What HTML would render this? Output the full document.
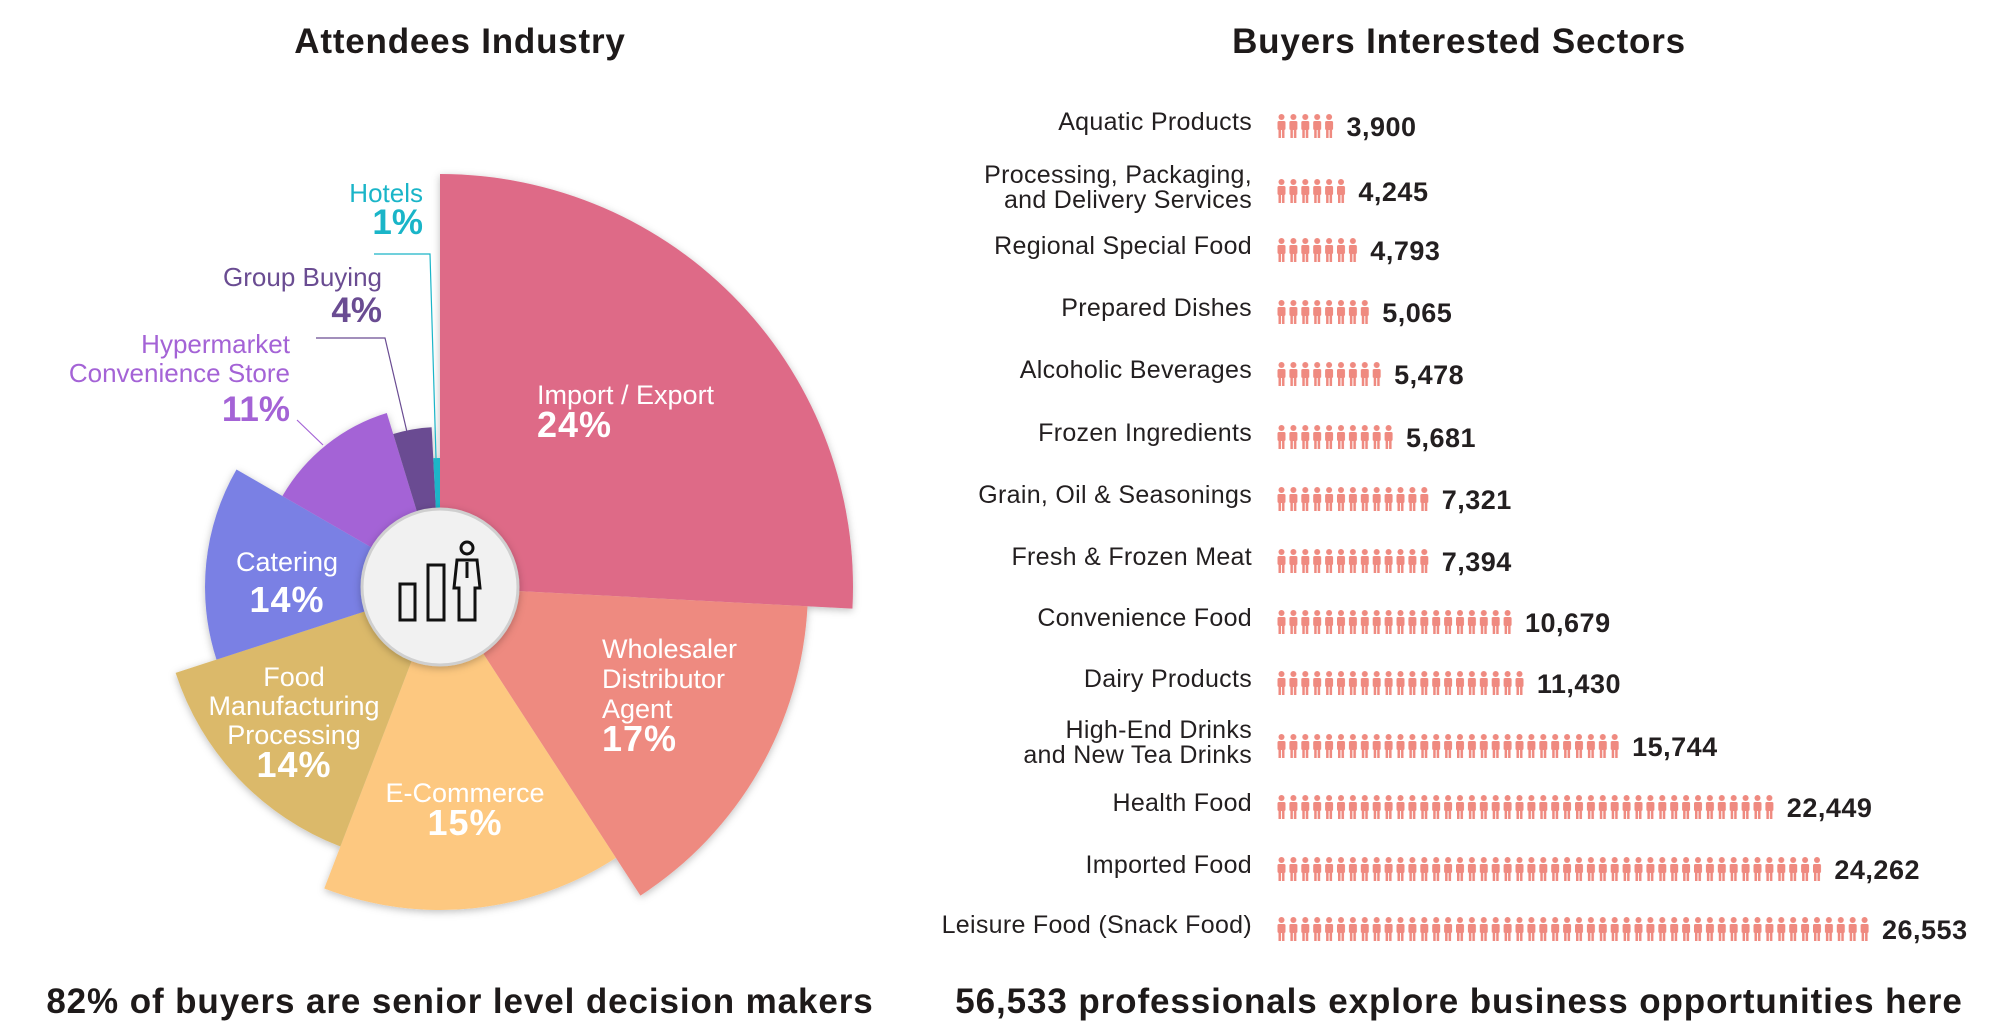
<!DOCTYPE html>
<html><head><meta charset="utf-8">
<style>
html,body{margin:0;padding:0;background:#fff;}
body{width:2014px;height:1029px;position:relative;overflow:hidden;font-family:"Liberation Sans","DejaVu Sans",sans-serif;}
.t{position:absolute;white-space:nowrap;}
.title{font-weight:bold;font-size:35px;color:#1e1a1a;transform:translateX(-50%);letter-spacing:0.8px;}
.foot{font-size:35px;letter-spacing:0.9px;}
.lbl{font-size:25px;color:#231f20;text-align:right;line-height:25px;letter-spacing:0.3px;}
.num{font-weight:bold;font-size:27px;color:#231f20;letter-spacing:0.5px;}
.w{color:#fff;font-size:27px;line-height:30px;}
.wp{color:#fff;font-size:36px;font-weight:bold;letter-spacing:1px;}
</style></head><body>
<svg id="sv" width="2014" height="1029" style="position:absolute;left:0;top:0">
<defs>
<filter id="sh" x="-20%" y="-20%" width="140%" height="140%"><feDropShadow dx="0" dy="2" stdDeviation="4" flood-opacity="0.25"/></filter>
<pattern id="pp" x="1277" y="0" width="11.9" height="30" patternUnits="userSpaceOnUse">
<circle cx="4.5" cy="4" r="3" fill="#ef8a80"/>
<rect x="0.5" y="8" width="8" height="9" rx="1.5" fill="#ef8a80"/>
<rect x="1.5" y="16" width="2.5" height="9" fill="#ef8a80"/>
<rect x="5" y="16" width="2.5" height="9" fill="#ef8a80"/>
</pattern>
</defs>
<g id="pie" filter="url(#sh)"></g>
<g fill="none" stroke-width="1.2">
<polyline points="374,254 430,254 436,458" stroke="#1ab5c8"/>
<polyline points="316,338 385,338 407,432" stroke="#6a4c92"/>
<polyline points="297,420 323,445" stroke="#a463d6"/>
</g>
<circle cx="440" cy="587" r="78" fill="#f1f1f1" stroke="#cfcfcf" stroke-width="3" filter="url(#sh)"/>
<g fill="none" stroke="#111" stroke-width="3">
<rect x="400" y="584" width="15" height="36"/>
<rect x="428" y="565" width="16" height="55"/>
<circle cx="467" cy="548" r="6"/>
<path d="M457 560 h20 l3 28 h-5 v32 h-16 v-32 h-5 z"/>
<line x1="467" y1="562" x2="467" y2="578"/>
</g>
<g id="bars"></g>
</svg>

<div class="t title" style="left:460px;top:22px">Attendees Industry</div>
<div class="t title" style="left:1459px;top:22px">Buyers Interested Sectors</div>
<div class="t title foot" style="left:460px;top:982px">82% of buyers are senior level decision makers</div>
<div class="t title foot" style="left:1459px;top:982px">56,533 professionals explore business opportunities here</div>

<div class="t" style="right:1591px;top:178px;color:#1ab5c8;font-size:26px;text-align:right;line-height:30px">Hotels<br><b style="font-size:35px">1%</b></div>
<div class="t" style="right:1632px;top:260px;color:#6a4c92;font-size:26px;text-align:right;line-height:34px">Group Buying<br><b style="font-size:35px">4%</b></div>
<div class="t" style="right:1724px;top:330px;color:#a463d6;font-size:26px;text-align:right;line-height:29px">Hypermarket<br>Convenience Store<br><b style="font-size:35px;line-height:44px">11%</b></div>

<div class="t w" style="left:537px;top:380px">Import / Export<br><b class="wp">24%</b></div>
<div class="t w" style="left:602px;top:634px">Wholesaler<br>Distributor<br>Agent<br><b class="wp">17%</b></div>
<div class="t w" style="left:465px;top:778px;transform:translateX(-50%);text-align:center">E-Commerce<br><b class="wp">15%</b></div>
<div class="t w" style="left:294px;top:663px;transform:translateX(-50%);text-align:center;line-height:29px">Food<br>Manufacturing<br>Processing<br><b class="wp">14%</b></div>
<div class="t w" style="left:287px;top:543px;transform:translateX(-50%);text-align:center;line-height:38px">Catering<br><b class="wp">14%</b></div>

<div id="rows"></div>
<script>
var cx=440,cy=587,P=Math.PI/180;
function pt(r,a){return [cx+r*Math.sin(a*P),cy-r*Math.cos(a*P)];}
var s=[[0,93,413,"#de6a87"],[93,147,368,"#ee8a80"],[147,201,323,"#fdc880"],[201,252,278,"#dbb96a"],[252,300,235,"#7a80e4"],[300,343,182,"#a463d6"],[343,357,160,"#6a4c92"],[357,360,129,"#1ab5c8"]];
var g=document.getElementById('pie'),h='';
s.forEach(function(d){var a=pt(d[2],d[0]),b=pt(d[2],d[1]);h+='<path d="M'+cx+' '+cy+' L'+a[0]+' '+a[1]+' A'+d[2]+' '+d[2]+' 0 0 1 '+b[0]+' '+b[1]+' Z" fill="'+d[3]+'"/>';});
g.innerHTML=h;
var rows=[["Aquatic Products","3,900",5,125],["Processing, Packaging,<br>and Delivery Services","4,245",6,190],["Regional Special Food","4,793",7,249],["Prepared Dishes","5,065",8,311],["Alcoholic Beverages","5,478",9,373],["Frozen Ingredients","5,681",10,436],["Grain, Oil &amp; Seasonings","7,321",13,498],["Fresh &amp; Frozen Meat","7,394",13,560],["Convenience Food","10,679",20,621],["Dairy Products","11,430",21,682],["High-End Drinks<br>and New Tea Drinks","15,744",29,745],["Health Food","22,449",42,806],["Imported Food","24,262",46,868],["Leisure Food (Snack Food)","26,553",50,928]];
var R='',bb='';
rows.forEach(function(r){var two=r[0].indexOf('<br>')>0;var top=two?r[3]-27:r[3]-15;
R+='<div class="t lbl" style="right:762px;top:'+top+'px">'+r[0]+'</div>';
var w=r[2]*11.9;
R+='<div class="t num" style="left:'+(1277+w+10)+'px;top:'+(r[3]-13)+'px">'+r[1]+'</div>';
bb+='<g transform="translate(0,'+(r[3]-12)+')"><rect x="1277" y="0" width="'+w+'" height="26" fill="url(#pp)"/></g>';});
document.getElementById('rows').innerHTML=R;
document.getElementById('bars').innerHTML=bb;
</script>
</body></html>
